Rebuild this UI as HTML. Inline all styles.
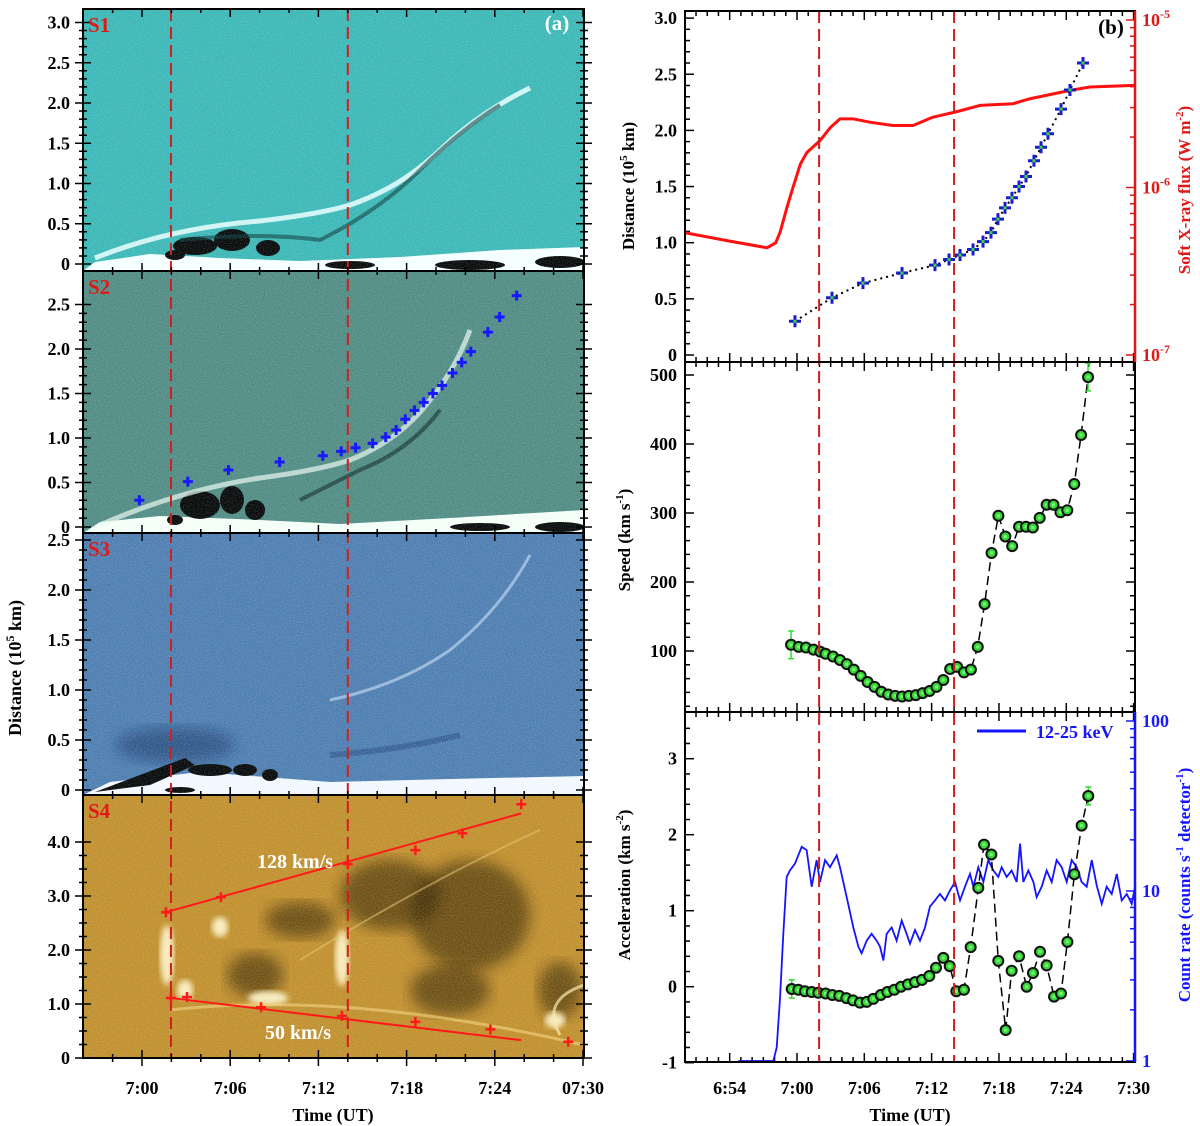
<!DOCTYPE html>
<html><head><meta charset="utf-8">
<style>
html,body{margin:0;padding:0;background:#fff;}
svg{display:block;font-family:"Liberation Serif",serif;font-weight:bold;}
</style></head>
<body>
<svg id="fig" width="1200" height="1126" viewBox="0 0 1200 1126" xmlns="http://www.w3.org/2000/svg">
<defs>
<filter id="noise" x="0" y="0" width="100%" height="100%">
<feTurbulence type="fractalNoise" baseFrequency="0.9" numOctaves="2" seed="3"/>
<feColorMatrix type="matrix" values="0 0 0 0 1  0 0 0 0 1  0 0 0 0 1  0 0 0 1.4 -0.55"/>
</filter>
<filter id="blur3"><feGaussianBlur stdDeviation="3"/></filter>
<filter id="blur6"><feGaussianBlur stdDeviation="7"/></filter>
<clipPath id="clipL"><rect x="83" y="9" width="501" height="1049"/></clipPath>
<clipPath id="clipR1"><rect x="685" y="11" width="450" height="351"/></clipPath>
<clipPath id="clipR2"><rect x="685" y="362" width="450" height="350"/></clipPath>
<clipPath id="clipR3"><rect x="685" y="712" width="450" height="350"/></clipPath>
</defs>
</svg>
<script>
// ---------------- data ----------------
const hTimes=[-0.18,3.12,5.88,9.36,12.3,13.55,14.53,15.69,16.58,17.29,17.91,18.54,19.16,19.79,20.41,21.12,21.75,22.37,23.53,24.33,25.49];
const hDist=[0.30,0.51,0.64,0.73,0.80,0.85,0.89,0.94,1.01,1.09,1.21,1.31,1.40,1.50,1.59,1.73,1.85,1.97,2.19,2.36,2.60];
const goesTimes=[-10,-6,-2.67,-1.9,-1.52,-0.9,-0.36,0.3,0.89,2.05,3.0,3.83,4.99,6.5,8.56,10.34,12.12,14.08,16.31,19.25,20.77,24.33,26.11,30.12];
const goesLogFlux=[-6.27,-6.32,-6.36,-6.33,-6.27,-6.12,-6.00,-5.86,-5.79,-5.72,-5.64,-5.59,-5.59,-5.61,-5.63,-5.63,-5.58,-5.55,-5.51,-5.50,-5.47,-5.42,-5.40,-5.39];
const vTimes=[-0.53,0.15,0.80,1.47,2.08,2.54,3.21,3.83,4.44,5.06,5.68,6.29,6.91,7.52,8.13,8.75,9.36,9.97,10.59,11.20,11.81,12.43,13.04,13.65,14.27,14.88,15.50,16.11,16.72,17.34,17.95,18.57,19.18,19.79,20.41,21.02,21.63,22.25,22.86,23.48,24.09,24.71,25.32,25.94];
const vSpeed=[109,106,105,102,99,96,92,87,81,73,64,55,48,41,37,35,34,35,36,39,42,48,58,74,77,69,73,106,168,242,296,266,252,280,280,279,293,312,312,301,304,342,413,497];
const vErr=[20,0,0,0,0,0,0,0,0,0,0,0,0,0,0,0,0,0,0,0,0,0,0,0,0,0,0,0,0,0,0,0,0,0,0,0,0,0,0,0,0,0,0,20];
const aTimes=[-0.47,0.12,0.71,1.31,1.90,2.55,3.15,3.77,4.40,4.99,5.61,6.21,6.80,7.46,8.05,8.67,9.27,9.89,10.52,11.14,11.79,12.39,13.04,13.61,14.20,14.88,15.48,16.16,16.67,17.32,17.94,18.60,19.13,19.79,20.47,21.03,21.66,22.25,22.91,23.53,24.10,24.72,25.37,25.96];
const aAcc=[-0.03,-0.04,-0.06,-0.07,-0.08,-0.09,-0.11,-0.12,-0.15,-0.18,-0.21,-0.20,-0.16,-0.11,-0.07,-0.04,0,0.03,0.06,0.09,0.14,0.25,0.38,0.27,-0.06,-0.04,0.52,1.30,1.87,1.74,0.34,-0.57,0.21,0.40,0.0,0.18,0.46,0.28,-0.13,-0.09,0.59,1.48,2.12,2.51];
const aErr=[0.12,0,0,0,0,0,0,0,0,0,0,0,0,0,0,0,0,0,0,0,0,0,0,0,0,0,0,0,0,0,0,0,0,0,0,0,0,0,0,0,0,0,0,0.12];
const cTimes=[-5.23,-2.11,-1.81,-1.52,-1.22,-0.92,-0.63,-0.18,0.42,0.86,1.31,1.75,2.05,2.50,2.94,3.54,3.83,4.43,5.02,5.47,5.76,6.21,6.65,7.10,7.40,7.70,7.99,8.44,8.88,9.33,9.77,10.07,10.52,10.96,11.41,11.85,12.30,12.74,13.19,13.64,14.08,14.53,14.97,15.42,15.72,16.16,16.61,17.05,17.50,17.94,18.24,18.69,19.13,19.58,19.88,20.17,20.62,21.07,21.36,21.81,22.25,22.70,23.14,23.59,24.04,24.48,24.93,25.37,25.82,26.27,26.71,27.16,27.60,28.05,28.50,28.94,29.39,29.83,30.13];
const cRate=[1.0,1.0,1.2,2.3,5.6,12.1,13.2,14.5,18.2,17.4,10.6,15.2,11.3,15.2,13.8,16.2,13.8,9.2,6.1,4.7,4.3,5.1,5.6,5.1,4.7,3.9,5.6,6.1,5.1,6.7,5.6,4.9,5.9,5.1,6.1,8.1,8.8,9.6,8.8,10.1,11.3,8.8,10.6,12.6,10.6,13.8,11.3,15.2,13.2,12.1,13.8,12.1,13.2,11.3,19.0,11.3,13.2,11.3,9.2,10.6,13.2,11.3,15.2,13.8,11.3,15.2,13.8,11.3,10.6,15.2,10.8,8.4,10.6,9.6,12.6,8.8,9.6,8.4,10.6];
const s4UpT=[1.63,5.37,14.0,18.6,21.8,25.8];
const s4UpD=[2.70,2.98,3.59,3.85,4.16,4.70];
const s4LoT=[1.97,3.06,8.1,13.6,18.6,23.7,29.0];
const s4LoD=[1.11,1.13,0.94,0.78,0.67,0.53,0.30];
const fitUpT=[1.63,25.8], fitUpD=[2.70,4.53];
const fitLoT=[1.97,25.8], fitLoD=[1.11,0.33];
const dashTimes=[1.97,14.0];

// ---------------- helpers ----------------
const NS='http://www.w3.org/2000/svg';
const svg=document.getElementById('fig');
function mk(tag,attrs,parent){const e=document.createElementNS(NS,tag);for(const k in attrs)e.setAttribute(k,attrs[k]);(parent||svg).appendChild(e);return e;}
function txt(s,x,y,attrs,parent){const e=mk('text',Object.assign({x:x,y:y},attrs),parent);e.textContent=s;return e;}
const xL=t=>142+t*14.7;
const xR=t=>797+t*11.22;
const yS1=d=>264-d*80.5, yS2=d=>527-d*89, yS3=d=>790-d*100, yS4=d=>1058-d*54;
const yB=d=>355-d*112.3;
const yG=l=>20+(-5-l)*167.5;
const yV=v=>651-(v-100)*0.69;
const yA=a=>986.7-a*76;
const yC=c=>1061-Math.log10(c)*170;
const FS=18;

// ---------------- left images ----------------
const imgs=mk('g',{'clip-path':'url(#clipL)'});


const panels=[['s1-image',9,271,'#3ab7b6'],['s2-image',271,533,'#4f8b83'],['s3-image',533,795,'#4c7db0'],['s4-image',795,1058,'#c08f2c']];
panels.forEach(p=>{
  const r=mk('rect',{x:83,y:p[1],width:501,height:p[2]-p[1],fill:p[3]},imgs);
  
  
});
mk('path',{d:'M83 271 L95 262 L150 254 L220 258 L300 261 L400 257 L500 250 L584 247 L584 271 Z',fill:'#f4ffff'},imgs);
[[195,246,22,9],[232,240,18,11],[268,248,12,8],[175,255,10,5],[470,265,35,5],[350,265,25,4],[560,262,25,6]].forEach(e=>mk('ellipse',{cx:e[0],cy:e[1],rx:e[2],ry:e[3],fill:'#050808'},imgs));
mk('path',{d:'M95 258 Q170 228 260 221 Q320 214 350 205 Q400 188 440 150 Q480 112 530 88',fill:'none',stroke:'#eaffff','stroke-width':5,opacity:0.85},imgs);
mk('path',{d:'M180 240 Q260 232 320 240 Q380 210 420 170 Q460 130 500 105',fill:'none',stroke:'#0b3e3e','stroke-width':4,opacity:0.6},imgs);
mk('path',{d:'M83 533 L100 522 L160 516 L260 520 L340 524 L450 518 L584 510 L584 533 Z',fill:'#f4fff8'},imgs);
[[200,505,20,14],[232,500,12,14],[255,510,10,10],[175,520,8,5],[480,527,30,4],[560,527,25,5]].forEach(e=>mk('ellipse',{cx:e[0],cy:e[1],rx:e[2],ry:e[3],fill:'#050808'},imgs));
mk('path',{d:'M100 525 Q180 490 260 478 Q320 470 350 460 Q400 440 430 400 Q455 370 470 330',fill:'none',stroke:'#e8f8f0','stroke-width':5,opacity:0.7},imgs);
mk('path',{d:'M300 500 Q340 480 360 470 Q410 450 440 410',fill:'none',stroke:'#0a2a24','stroke-width':4,opacity:0.6},imgs);
mk('path',{d:'M83 795 L110 782 L200 772 L330 782 L450 779 L584 776 L584 795 Z',fill:'#f2f8ff'},imgs);
mk('ellipse',{cx:175,cy:745,rx:60,ry:18,fill:'#0c2a5a',opacity:0.45,filter:'url(#blur6)'},imgs);
mk('path',{d:'M95 792 L140 775 L185 758 L195 765 L150 785 Z',fill:'#050808'},imgs);
[[210,770,22,6],[245,770,12,6],[270,775,8,6],[180,790,15,3]].forEach(e=>mk('ellipse',{cx:e[0],cy:e[1],rx:e[2],ry:e[3],fill:'#050808'},imgs));
mk('path',{d:'M330 700 Q400 685 450 650 Q500 610 530 555',fill:'none',stroke:'#a9c6e6','stroke-width':3,opacity:0.8},imgs);
mk('path',{d:'M330 755 Q400 750 460 735',fill:'none',stroke:'#1b3c70','stroke-width':6,opacity:0.4},imgs);
[[255,975,28,22],[470,915,60,55],[390,895,50,35],[560,990,22,28],[450,990,40,25],[300,920,35,18]].forEach(e=>mk('ellipse',{cx:e[0],cy:e[1],rx:e[2],ry:e[3],fill:'#2a1a04',opacity:0.55,filter:'url(#blur6)'},imgs));
[[167,955,7,30],[220,927,8,10],[342,958,7,28],[268,998,20,7],[555,1020,10,8],[185,990,8,10]].forEach(e=>mk('ellipse',{cx:e[0],cy:e[1],rx:e[2],ry:e[3],fill:'#fff6cc',opacity:0.9,filter:'url(#blur3)'},imgs));
mk('path',{d:'M170 1010 Q350 990 584 1045',fill:'none',stroke:'#f2d27a','stroke-width':3,opacity:0.6},imgs);
mk('path',{d:'M584 985 Q540 1000 560 1035',fill:'none',stroke:'#fae8a8','stroke-width':3,opacity:0.7},imgs);
mk('path',{d:'M300 960 Q430 880 540 830',fill:'none',stroke:'#e8c870','stroke-width':2,opacity:0.5},imgs);
mk('rect',{x:83,y:9,width:501,height:1049,filter:'url(#noise)',opacity:0.35},imgs);

dashTimes.forEach((t,i)=>{
  const l=mk('line',{x1:xL(t),x2:xL(t),y1:9,y2:1058,stroke:'#d21e1e','stroke-width':2,'stroke-dasharray':'12,6'});
  
  
});

const s2c=mk('g',{});


hTimes.forEach((t,i)=>{
  const x=xL(t),y=yS2(hDist[i]);
  const p=mk('path',{d:`M${x-5} ${y}H${x+5}M${x} ${y-5}V${y+5}`,stroke:'#1818ff','stroke-width':3},s2c);
  
  
});

const s4g=mk('g',{});


const fu=mk('line',{x1:xL(fitUpT[0]),y1:yS4(fitUpD[0]),x2:xL(fitUpT[1]),y2:yS4(fitUpD[1]),stroke:'#ff1a1a','stroke-width':2},s4g);


const fl=mk('line',{x1:xL(fitLoT[0]),y1:yS4(fitLoD[0]),x2:xL(fitLoT[1]),y2:yS4(fitLoD[1]),stroke:'#ff1a1a','stroke-width':2},s4g);


function redPlus(x,y){const p=mk('path',{d:`M${x-5} ${y}H${x+5}M${x} ${y-5}V${y+5}`,stroke:'#ff1a1a','stroke-width':2.5},s4g);return p;}
s4UpT.forEach((t,i)=>{const p=redPlus(xL(t),yS4(s4UpD[i]));
});
s4LoT.forEach((t,i)=>{const p=redPlus(xL(t),yS4(s4LoD[i]));
});
const l128=txt('128 km/s',295,868,{fill:'#fff','font-size':20,'text-anchor':'middle'});


const l50=txt('50 km/s',298,1039,{fill:'#fff','font-size':20,'text-anchor':'middle'});



const leftAx=mk('g',{});


const lp=[[9,271,yS1,3.0,'S1'],[271,533,yS2,2.5,'S2'],[533,795,yS3,2.5,'S3'],[795,1058,yS4,4.0,'S4']];
lp.forEach((p,pi)=>{
  mk('rect',{x:83,y:p[0],width:501,height:p[1]-p[0],fill:'none',stroke:'#000','stroke-width':2},leftAx);
  const isS4=pi===3, step=isS4?1:0.5, minor=isS4?0.25:0.1;
  for(let v=0;v<=p[3]+1e-6;v+=minor){
    const y=p[2](v); if(y<p[0]+1)continue;
    const maj=Math.abs(v/step-Math.round(v/step))<1e-4, L=maj?8:4;
    mk('path',{d:`M83 ${y}h${L}M584 ${y}h${-L}M83 ${y}h${-L}M584 ${y}h${L}`,stroke:'#000','stroke-width':1.5},leftAx);
    if(maj){const lab=v===0?'0':v.toFixed(1);
      const tl=txt(lab,70,y+6,{'font-size':FS,'text-anchor':'end'},leftAx);
      }
  }
  const pl=txt(p[4],88,p[0]+23,{fill:'#e01818','font-size':21},leftAx);
  
  
  for(let t=-4;t<=30;t+=2){const x=xL(t);const maj=t%6===0;const L=maj?8:4;
    mk('path',{d:`M${x} ${p[1]}v${-L}M${x} ${p[0]}v${L}`,stroke:'#000','stroke-width':1.5},leftAx);
    if(pi===3&&t>-4)mk('path',{d:`M${x} ${p[1]}v${L}`,stroke:'#000','stroke-width':1.5},leftAx);}
});
['7:00','7:06','7:12','7:18','7:24','07:30'].forEach((s,i)=>{
  const tl=txt(s,xL(i*6),1094,{'font-size':FS,'text-anchor':'middle'},leftAx);
  
});
const la=txt('(a)',557,30,{fill:'#fff','font-size':21,'text-anchor':'middle'});


const lxt=txt('Time (UT)',333,1121,{'font-size':FS,'text-anchor':'middle'});


const lyt=mk('text',{x:0,y:0,'font-size':FS,'text-anchor':'middle',transform:'translate(21,668) rotate(-90)'});
lyt.innerHTML='Distance (10<tspan dy="-7" font-size="12">5</tspan><tspan dy="7"> km)</tspan>';



// ---------------- right panels ----------------
const rp=[[11,362],[362,712],[712,1062]];
const rAx=mk('g',{});


rp.forEach((p,pi)=>{
  for(let t=-10;t<=30;t++){const x=xR(t);const maj=t%6===0;const L=maj?9:5;
    mk('path',{d:`M${x} ${p[1]}v${-L}M${x} ${p[0]}v${L}`,stroke:'#000','stroke-width':1.5},rAx);}
});
for(let v=0;v<=3.0001;v+=0.1){const y=yB(v);const maj=Math.abs(v*2-Math.round(v*2))<1e-4;const L=maj?9:5;
  mk('path',{d:`M685 ${y}h${L}`,stroke:'#000','stroke-width':1.5},rAx);
  if(maj){const tl=txt(v<0.01?'0':v.toFixed(1),677,y+6,{'font-size':FS,'text-anchor':'end'},rAx);
  }}
for(let e=-7;e<=-5;e++){for(let m=1;m<10;m++){const l=e+Math.log10(m);if(l>-4.99&&m>1)continue;const y=yG(l);if(y<11||y>362)continue;
  const L=m===1?9:5;mk('path',{d:`M1135 ${y}h${-L}`,stroke:'#e01818','stroke-width':1.5},rAx);}
  const tl=mk('text',{x:1142,y:yG(e)+6,'font-size':FS,fill:'#e01818'},rAx);
  tl.innerHTML='10<tspan dy="-8" font-size="12">'+e+'</tspan>';
  }
for(let v=20;v<=520;v+=20){const y=yV(v);if(y<363)continue;const maj=v%100===0;const L=maj?9:5;
  mk('path',{d:`M685 ${y}h${L}M1135 ${y}h${-L}`,stroke:'#000','stroke-width':1.5},rAx);
  if(maj){const tl=txt(String(v),677,y+6,{'font-size':FS,'text-anchor':'end'},rAx);
  }}
for(let i=-10;i<=35;i+=2){const v=i/10;const y=yA(v);if(y<713||y>1064)continue;const maj=i%10===0;const L=maj?9:5;
  mk('path',{d:`M685 ${y}h${L}`,stroke:'#000','stroke-width':1.5},rAx);
  if(maj){const tl=txt(String(v),677,y+6,{'font-size':FS,'text-anchor':'end'},rAx);
  }}
for(let e=0;e<=2;e++){for(let m=1;m<10;m++){if(e===2&&m>1)break;const y=yC(m*Math.pow(10,e));if(y<712)continue;
  const L=m===1?9:5;mk('path',{d:`M1135 ${y}h${-L}`,stroke:'#1a1aff','stroke-width':1.5},rAx);}
  const tl=txt(String(Math.pow(10,e)),1142,yC(Math.pow(10,e))+6,{'font-size':FS,fill:'#1a1aff'},rAx);
  }
['6:54','7:00','7:06','7:12','7:18','7:24','7:30'].forEach((s,i)=>{
  const tl=txt(s,xR(-6+i*6),1094,{'font-size':FS,'text-anchor':'middle'},rAx);
  });

const gpts=goesTimes.map((t,i)=>xR(t)+','+yG(goesLogFlux[i])).join(' ');
const gl=mk('polyline',{points:gpts,fill:'none',stroke:'#ff1010','stroke-width':3,'stroke-linejoin':'round','clip-path':'url(#clipR1)'});


const hpts=hTimes.map((t,i)=>xR(t)+','+yB(hDist[i])).join(' ');
const hl=mk('polyline',{points:hpts,fill:'none',stroke:'#000','stroke-width':2,'stroke-dasharray':'2,4'});


const bxg=mk('g',{});


hTimes.forEach((t,i)=>{const x=xR(t),y=yB(hDist[i]);
  const p=mk('path',{d:`M${x-6} ${y}H${x+6}M${x} ${y-6}V${y+6}`,stroke:'#1a1ad0','stroke-width':3},bxg);
  
  mk('rect',{x:x-1.5,y:y-1.5,width:3,height:3,fill:'#33dd33'},bxg);});

const cpts=cTimes.map((t,i)=>xR(t)+','+yC(cRate[i])).join(' ');
const cl=mk('polyline',{points:cpts,fill:'none',stroke:'#1414ff','stroke-width':1.8,'clip-path':'url(#clipR3)'});



function series(times,vals,errs,yf,name){
  const g=mk('g',{});
  
  
  mk('polyline',{points:times.map((t,i)=>xR(t)+','+yf(vals[i])).join(' '),fill:'none',stroke:'#000','stroke-width':1.5,'stroke-dasharray':'9,5'},g);
  times.forEach((t,i)=>{const x=xR(t),y=yf(vals[i]);
    if(errs[i]>0){const y1=yf(vals[i]+errs[i]),y2=yf(vals[i]-errs[i]);
      mk('path',{d:`M${x} ${y1}V${y2}M${x-3} ${y1}h6M${x-3} ${y2}h6`,stroke:'#33dd33','stroke-width':1.5},g);}
    const c=mk('circle',{cx:x,cy:y,r:5,fill:'#36d636',stroke:'#111','stroke-width':2},g);
    
    mk('rect',{x:x-1.5,y:y-1.5,width:3,height:3,fill:'#7f7'},g);});
}
series(vTimes,vSpeed,vErr,yV,'speed-series');
series(aTimes,aAcc,aErr,yA,'accel-series');

dashTimes.forEach((t,i)=>{
  const l=mk('line',{x1:xR(t),x2:xR(t),y1:11,y2:1062,stroke:'#d21e1e','stroke-width':2,'stroke-dasharray':'12,6'});
  
  });

rp.forEach((p,pi)=>{
  const r=mk('rect',{x:685,y:p[0],width:450,height:p[1]-p[0],fill:'none',stroke:'#000','stroke-width':2});
  
  });
mk('line',{x1:1135,y1:11,x2:1135,y2:362,stroke:'#e01818','stroke-width':2.5});
mk('line',{x1:1135,y1:712,x2:1135,y2:1062,stroke:'#1414ff','stroke-width':2.5});

const lg=mk('g',{});


mk('line',{x1:977,y1:731,x2:1026,y2:731,stroke:'#1414ff','stroke-width':3},lg);
txt('12-25 keV',1036,738,{'font-size':FS,fill:'#1414ff'},lg);

const lb=txt('(b)',1111,34,{'font-size':21,'text-anchor':'middle'});


const rxt=txt('Time (UT)',910,1121,{'font-size':FS,'text-anchor':'middle'});


function vtitle(html,x,y,fill){const e=mk('text',{x:0,y:0,'font-size':17,'text-anchor':'middle',fill:fill,transform:`translate(${x},${y}) rotate(-90)`});e.innerHTML=html;return e;}
const t1=vtitle('Distance (10<tspan dy="-7" font-size="11">5</tspan><tspan dy="7"> km)</tspan>',634,186,'#000');


const t2=vtitle('Speed (km s<tspan dy="-7" font-size="11">-1</tspan><tspan dy="7">)</tspan>',630,540,'#000');


const t3=vtitle('Acceleration (km s<tspan dy="-7" font-size="11">-2</tspan><tspan dy="7">)</tspan>',630,885,'#000');


const t4=vtitle('Soft X-ray flux (W m<tspan dy="-7" font-size="11">-2</tspan><tspan dy="7">)</tspan>',1190,190,'#e01818');


const t5=vtitle('Count rate (counts s<tspan dy="-7" font-size="11">-1</tspan><tspan dy="7"> detector</tspan><tspan dy="-7" font-size="11">-1</tspan><tspan dy="7">)</tspan>',1190,885,'#1414ff');


</script>
</body></html>
